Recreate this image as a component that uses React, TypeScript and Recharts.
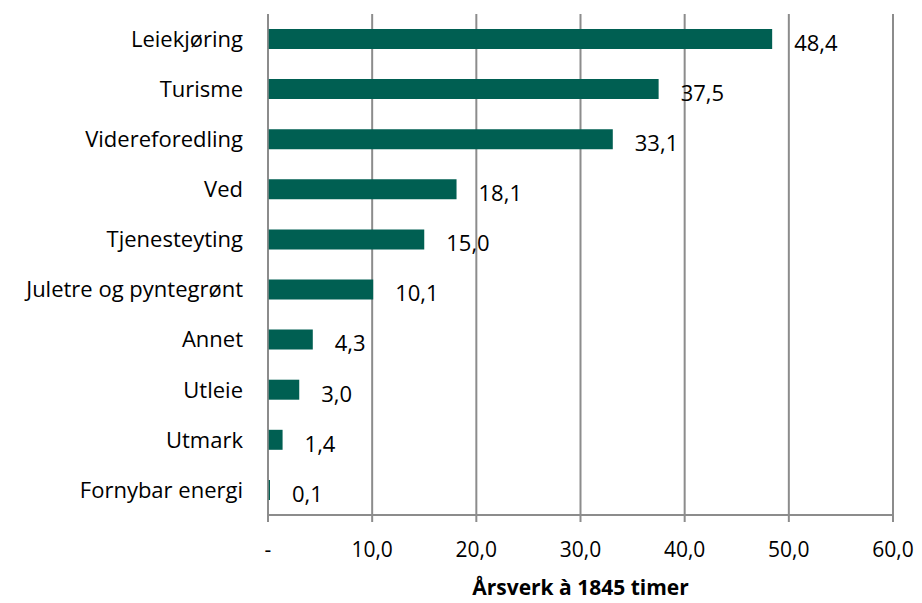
import { BarChart, Bar, XAxis, YAxis, CartesianGrid, LabelList } from 'recharts';

const categories = [
  'Leiekjøring',
  'Turisme',
  'Videreforedling',
  'Ved',
  'Tjenesteyting',
  'Juletre og pyntegrønt',
  'Annet',
  'Utleie',
  'Utmark',
  'Fornybar energi',
];
const aarsverk = [48.4, 37.5, 33.1, 18.1, 15.0, 10.1, 4.3, 3.0, 1.4, 0.1];
const xTicks = [0, 10, 20, 30, 40, 50, 60];

const FONT = '"Open Sans", "Noto Sans", sans-serif';
const GRID = '#8c8c8c';

const fmt = (v: number) => (v === 0 ? '-' : v.toFixed(1).replace('.', ','));

export default function App() {
  const data = categories.map((name, i) => ({ name, value: aarsverk[i] }));

  return (
    <div style={{ width: 922, height: 603, background: '#fff', fontFamily: FONT }}>
      <style>{`body{margin:0}`}</style>
      <BarChart
        layout="vertical"
        width={922}
        height={603}
        data={data}
        margin={{ top: 14, right: 29, bottom: 0, left: 0 }}
        barCategoryGap={0}
      >
        <CartesianGrid horizontal={false} stroke={GRID} strokeWidth={2} />
        <XAxis
          type="number"
          domain={[0, 60]}
          ticks={xTicks}
          tickFormatter={fmt}
          stroke={GRID}
          strokeWidth={2}
          tickSize={7}
          tickMargin={20}
          height={88}
          tick={{ fill: '#000', fontSize: 21, fontFamily: FONT }}
          label={{
            value: 'Årsverk à 1845 timer',
            position: 'insideBottom',
            offset: 8,
            fill: '#000',
            fontSize: 21,
            fontWeight: 700,
            fontFamily: FONT,
          }}
        />
        <YAxis
          type="category"
          dataKey="name"
          width={268}
          stroke={GRID}
          strokeWidth={1.5}
          tickLine={false}
          tickSize={0}
          tickMargin={25}
          tick={{ fill: '#000', fontSize: 22, fontFamily: FONT }}
          interval={0}
        />
        <Bar dataKey="value" fill="#005F52" barSize={20} minPointSize={2} isAnimationActive={false}>
          <LabelList
            dataKey="value"
            position="right"
            offset={22}
            formatter={(v: number) => fmt(v)}
            style={{ fill: '#000', fontSize: 22, fontFamily: FONT }}
            dy={4}
          />
        </Bar>
      </BarChart>
    </div>
  );
}
